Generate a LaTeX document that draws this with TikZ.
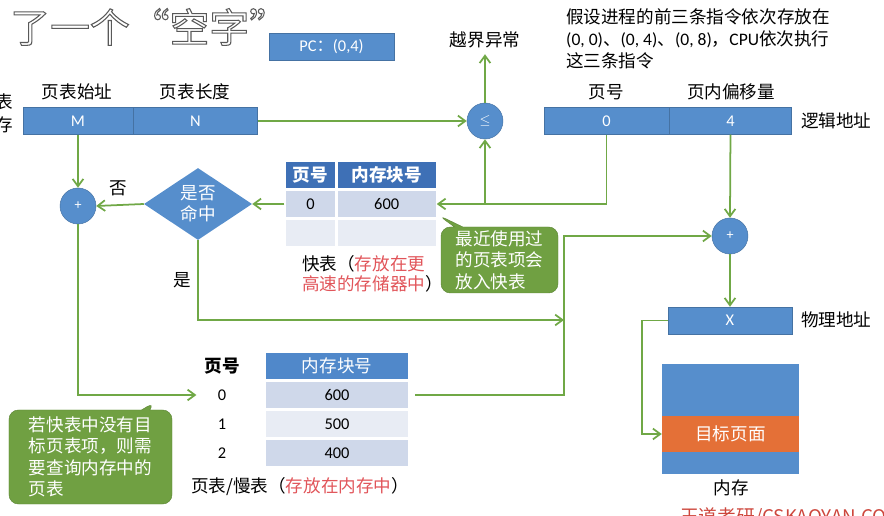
\documentclass[tikz,border=0pt]{standalone}
\usepackage{fontspec}
\setmainfont{Carlito}
\newfontfamily\cjk{Noto Sans CJK SC}
\usetikzlibrary{shapes.geometric, shapes.callouts, arrows.meta, positioning, calc}

\definecolor{regblue}{RGB}{86,142,204}
\definecolor{headblue}{RGB}{62,112,182}
\definecolor{ptblue}{RGB}{80,136,202}
\definecolor{rowdark}{RGB}{207,216,234}
\definecolor{rowlight}{RGB}{232,236,244}
\definecolor{flowgreen}{RGB}{112,168,70}
\definecolor{notegreen}{RGB}{112,160,66}
\definecolor{memorange}{RGB}{228,112,55}
\definecolor{capred}{RGB}{225,85,90}
\definecolor{wmred}{RGB}{205,70,60}

\begin{document}
\begin{tikzpicture}[x=0.03cm, y=-0.03cm,
  reg/.style = {
    rectangle, fill=regblue, draw=regblue!80!black, line width=0.4pt,
    minimum height=0.81cm, inner sep=0pt, text=white,
    font=\fontsize{14}{16}\selectfont
  },
  op/.style = {
    circle, fill=regblue, draw=regblue!80!black, line width=0.4pt,
    minimum size=1.08cm, inner sep=0pt, text=white,
    font=\fontsize{12}{14}\selectfont
  },
  lbl/.style = {font=\cjk\fontsize{15}{19}\selectfont, inner sep=0pt},
  cell/.style = {
    rectangle, draw=white, line width=1pt, minimum height=0.84cm,
    inner sep=0pt, font=\fontsize{14}{16}\selectfont
  },
  head/.style = {cell, fill=headblue, text=white, font=\cjk\bfseries\fontsize{15}{18}\selectfont},
  note/.style = {
    rectangle callout, fill=notegreen, draw=notegreen!85!black,
    rounded corners=8pt, text=white, align=left, inner sep=0pt,
    font=\cjk\fontsize{15}{18.4}\selectfont
  },
  flow/.style = {draw=flowgreen, line width=1.5pt, -{Straight Barb[length=2.2mm, width=3.2mm]}}
]
  \useasboundingbox (0,0) rectangle (884,516);

  % 截断的标题与左侧文字
  \node[font=\cjk\fontsize{34}{40}\selectfont, text=white, anchor=west, inner sep=0pt] (title) at (10,27)
    {\special{pdf:literal direct 2 Tr 0.9 w 0.35 G}了一个“空字”\special{pdf:literal direct 0 Tr}};
  \node[lbl, font=\cjk\fontsize{15}{19.5}\selectfont, align=right, anchor=east] (regname) at (13,113) {表\\存};

  % PC 与说明
  \node[reg, minimum width=3.75cm] (pc) at (331.5,46.5) {PC{\cjk ：}(0,4)};
  \node[lbl] (oob) at (485,40) {越界异常};
  \node[lbl, align=left, anchor=west] (info) at (566,39)
    {假设进程的前三条指令依次存放在\\{\rmfamily (0, 0)}、{\rmfamily (0, 4)}、{\rmfamily (0, 8)}，{\rmfamily CPU}依次执行\\这三条指令};

  % 页表寄存器
  \node[reg, minimum width=3.3cm] (m) at (78,121) {M};
  \node[reg, minimum width=3.72cm, right=0pt of m] (n) {N};
  \node[lbl] (mlbl) at (77,92) {页表始址};
  \node[lbl] (nlbl) at (195,92) {页表长度};

  % 比较器
  \node[op] (cmp) at (485,121) {$\leq$};

  % 逻辑地址
  \node[reg, minimum width=3.75cm] (lpage) at (606.5,121) {0};
  \node[reg, minimum width=3.66cm, right=0pt of lpage] (loff) {4};
  \node[lbl] (lpagelbl) at (606,92) {页号};
  \node[lbl] (lofflbl) at (731,92) {页内偏移量};
  \node[lbl, anchor=west] (laddr) at (801,121) {逻辑地址};

  % 物理地址与内存
  \node[op] (addr) at (730,236) {+};
  \node[reg, minimum width=3.72cm] (phys) at (730,320.5) {X};
  \node[lbl, anchor=west] (paddr) at (801,320) {物理地址};
  \node[rectangle, fill=regblue, minimum width=4.11cm, minimum height=3.3cm, inner sep=0pt] (mem) at (730.5,419) {};
  \node[rectangle, fill=memorange, minimum width=4.11cm, minimum height=1.08cm, inner sep=0pt,
    text=white, font=\cjk\fontsize{15}{18}\selectfont] (target) at (730.5,434) {目标页面};
  \node[lbl] (memlbl) at (731,488) {内存};

  % 左侧加法器与判断
  \node[op] (addl) at (78,206) {+};
  \node[diamond, aspect=1.5, fill=regblue, minimum width=3.24cm, minimum height=2.16cm, inner sep=0pt,
    text=white, align=center, font=\cjk\fontsize{15}{18}\selectfont] (hit) at (198,204) {是否\\命中};
  \node[lbl] (nolbl) at (118,188) {否};
  \node[lbl] (yeslbl) at (182,280) {是};

  % 快表
  \node[head, minimum width=1.53cm] (tlbh0) at (310.5,175) {页号};
  \node[head, minimum width=2.97cm, right=0pt of tlbh0] (tlbh1) {内存块号};
  \node[cell, fill=rowdark, minimum width=1.53cm] (tlb00) at (310.5,204) {0};
  \node[cell, fill=rowdark, minimum width=2.97cm, right=0pt of tlb00] (tlb01) {600};
  \node[cell, fill=rowlight, minimum width=1.53cm] (tlb10) at (310.5,233) {};
  \node[cell, fill=rowlight, minimum width=2.97cm, right=0pt of tlb10] (tlb11) {};
  \node[lbl, font=\cjk\fontsize{15}{17}\selectfont, align=left, anchor=north west] (tlbcap) at (302,255)
    {快表（\textcolor{capred}{存放在更}\\\textcolor{capred}{高速的存储器中}）};

  % 慢表
  \node[lbl, font=\cjk\bfseries\fontsize{15}{18}\selectfont] (pth0) at (222,366) {页号};
  \node[cell, fill=ptblue, text=white, font=\cjk\fontsize{15}{18}\selectfont,
    minimum width=4.32cm, minimum height=0.8cm] (pth1) at (337,366) {内存块号};
  \node[cell, fill=rowdark, minimum width=4.32cm] (pt0) at (337,395) {600};
  \node[cell, fill=rowlight, minimum width=4.32cm] (pt1) at (337,424) {500};
  \node[cell, fill=rowdark, minimum width=4.32cm] (pt2) at (337,453) {400};
  \node[cell, draw=none, minimum width=1.5cm] (idx0) at (222,395) {0};
  \node[cell, draw=none, minimum width=1.5cm] (idx1) at (222,424) {1};
  \node[cell, draw=none, minimum width=1.5cm] (idx2) at (222,453) {2};
  \node[lbl, anchor=west] (ptcap) at (191,487) {页表/慢表（\textcolor{capred}{存放在内存中}）};

  % 提示框
  \coordinate (tip1) at (438,215);
  \node[note, minimum width=3.51cm, minimum height=1.98cm, callout absolute pointer={(tip1)}] (note1)
    at (499.5,260) {最近使用过\\的页表项会\\放入快表};
  \coordinate (tip2) at (155,402);
  \node[note, minimum width=4.89cm, minimum height=2.82cm, callout absolute pointer={(tip2)}] (note2)
    at (90.5,457) {若快表中没有目\\标页表项，则需\\要查询内存中的\\页表};

  % 水印
  \node[font=\cjk\fontsize{16}{18}\selectfont, text=wmred, anchor=north west, inner sep=0pt] (wm)
    at (680,507) {王道考研/CSKAOYAN.COM};

  % 连线
  \coordinate (join) at (564,395);
  \coordinate (merge) at (564,320);
  \draw[flow] (n.east) -- (cmp.west);
  \draw[flow, shorten >=5pt] (cmp.north) -- (oob.south);
  \draw[flow] (lpage.south) |- (tlb01.east);
  \draw[flow] (cmp.south |- tlb01.east) -- (cmp.south);
  \draw[flow] (tlb00.west) -- (hit.east);
  \draw[flow] (hit.west) -- (addl.east);
  \draw[flow] (m.south) -- (addl.north);
  \draw[flow] (addl.south) |- (idx0.west);
  \draw[flow, shorten <=5pt] (pt0.east) -- (join) |- (addr.west);
  \draw[flow] (hit.south) |- (merge);
  \draw[flow] (loff.south) -- (addr.north);
  \draw[flow] (addr.south) -- (phys.north);
  \draw[flow] (phys.west) -- ++(-26,0) |- (target.west);

\end{tikzpicture}
\end{document}
